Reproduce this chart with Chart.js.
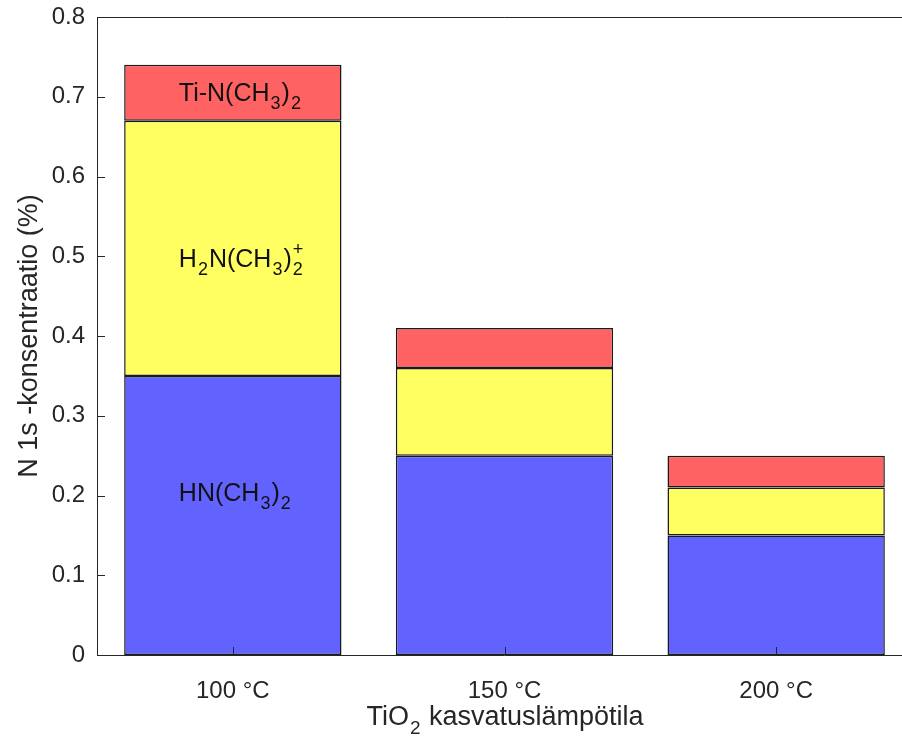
<!DOCTYPE html>
<html>
<head>
<meta charset="utf-8">
<script src="https://cdn.jsdelivr.net/npm/chart.js@4"></script>
<style>
  html, body { margin: 0; padding: 0; background: #fff; overflow: hidden; }
  #wrap { width: 912px; height: 740px; }
</style>
</head>
<body>
<div id="wrap"><canvas id="graph" width="912" height="740"></canvas></div>
<script>
// growth temperatures on the x axis
const categories = ['100 °C', '150 °C', '200 °C'];
// N 1s concentration split into components (%)
const hnValues = [0.35, 0.25, 0.15];    // HN(CH3)2
const h2nValues = [0.32, 0.11, 0.06];   // H2N(CH3)2+
const tinValues = [0.07, 0.05, 0.04];   // Ti-N(CH3)2
const yTicks = [0, 0.1, 0.2, 0.3, 0.4, 0.5, 0.6, 0.7, 0.8];

const axisColor = '#262626';
const fontFamily = 'Arial, "Liberation Sans", sans-serif';

// parts: [text, kind] where kind is 'n' normal, 's' subscript, 'ss' sub with superscript on top
function richWidth(ctx, parts, size) {
  let w = 0;
  parts.forEach(function(p) {
    if (p[1] === 'n') {
      ctx.font = size + 'px ' + fontFamily;
      w += ctx.measureText(p[0]).width;
    } else {
      ctx.font = Math.round(size * 0.7) + 'px ' + fontFamily;
      w += ctx.measureText(p[0]).width + 2;
    }
  });
  return w;
}

function drawRich(ctx, parts, x, y, size, align) {
  let cx = align === 'center' ? x - richWidth(ctx, parts, size) / 2 : x;
  ctx.textBaseline = 'middle';
  ctx.textAlign = 'left';
  parts.forEach(function(p) {
    if (p[1] === 'n') {
      ctx.font = size + 'px ' + fontFamily;
      ctx.fillText(p[0], cx, y);
      cx += ctx.measureText(p[0]).width;
    } else {
      ctx.font = Math.round(size * 0.7) + 'px ' + fontFamily;
      ctx.fillText(p[0], cx + 1, y + size * 0.4);
      if (p[1] === 'ss')
        ctx.fillText('+', cx + 1, y - size * 0.42);
      cx += ctx.measureText(p[0]).width + 2;
    }
  });
}

const segmentLabels = [
  {ds: 0, parts: [['HN(CH', 'n'], ['3', 's'], [')', 'n'], ['2', 's']], dy: -21},
  {ds: 1, parts: [['H', 'n'], ['2', 's'], ['N(CH', 'n'], ['3', 's'], [')', 'n'], ['2', 'ss']], dy: 12},
  {ds: 2, parts: [['Ti-N(CH', 'n'], ['3', 's'], [')', 'n'], ['2', 's']], dy: 1}
];

const framePlugin = {
  id: 'frame',
  afterDatasetsDraw(chart) {
    const ctx = chart.ctx;
    const area = chart.chartArea;
    const x = chart.scales.x, y = chart.scales.y;
    ctx.save();

    // component labels inside the first bar
    ctx.fillStyle = '#111';
    const stacks = [hnValues, h2nValues, tinValues];
    segmentLabels.forEach(function(l) {
      let base = 0;
      for (let i = 0; i < l.ds; i++) base += stacks[i][0];
      const mid = base + stacks[l.ds][0] / 2;
      drawRich(ctx, l.parts, x.getPixelForValue(0) - 54, y.getPixelForValue(mid) + l.dy, 25, 'left');
    });

    // box and inward ticks
    ctx.strokeStyle = axisColor;
    ctx.lineWidth = 1;
    ctx.beginPath();
    ctx.moveTo(area.left + 0.5, area.top + 0.5);
    ctx.lineTo(area.left + 0.5, area.bottom + 0.5);
    ctx.lineTo(area.right, area.bottom + 0.5);
    ctx.moveTo(area.left + 0.5, area.top + 0.5);
    ctx.lineTo(area.right, area.top + 0.5);
    yTicks.forEach(function(v) {
      const py = Math.round(y.getPixelForValue(v)) + 0.5;
      ctx.moveTo(area.left, py);
      ctx.lineTo(area.left + 8, py);
    });
    categories.forEach(function(c, i) {
      const px = Math.round(x.getPixelForValue(i)) + 0.5;
      ctx.moveTo(px, area.bottom);
      ctx.lineTo(px, area.bottom - 8);
    });
    ctx.stroke();

    // axis titles
    ctx.fillStyle = axisColor;
    drawRich(ctx, [['TiO', 'n'], ['2', 's'], [' kasvatuslämpötila', 'n']], 505, 718, 27, 'center');
    ctx.translate(30, (area.top + area.bottom) / 2);
    ctx.rotate(-Math.PI / 2);
    ctx.font = '27px ' + fontFamily;
    ctx.textAlign = 'center';
    ctx.textBaseline = 'middle';
    ctx.fillText('N 1s -konsentraatio (%)', 0, 0);
    ctx.restore();
  }
};

const barStyle = {borderColor: '#1a1a1a', borderWidth: 1.5, borderSkipped: false,
  barPercentage: 0.8, categoryPercentage: 1};

new Chart(document.getElementById('graph').getContext('2d'), {
  type: 'bar',
  data: {
    labels: categories,
    datasets: [
      Object.assign({label: 'HN(CH3)2', data: hnValues, backgroundColor: '#6262ff'}, barStyle),
      Object.assign({label: 'H2N(CH3)2+', data: h2nValues, backgroundColor: '#ffff62'}, barStyle),
      Object.assign({label: 'Ti-N(CH3)2', data: tinValues, backgroundColor: '#ff6262'}, barStyle)
    ]
  },
  options: {
    responsive: false,
    animation: false,
    devicePixelRatio: 1,
    layout: {padding: {top: 17, right: 0, left: 0, bottom: 0}},
    plugins: {legend: {display: false}, tooltip: {enabled: false}},
    scales: {
      x: {
        stacked: true,
        grid: {display: false, drawTicks: false},
        border: {display: false},
        ticks: {color: axisColor, padding: 22, font: {family: fontFamily, size: 24}},
        afterFit: function(s) { s.height = 85; s.paddingLeft = 0; s.paddingRight = 0; }
      },
      y: {
        stacked: true,
        min: 0, max: 0.8,
        grid: {display: false, drawTicks: false},
        border: {display: false},
        afterBuildTicks: function(s) { s.ticks = yTicks.map(function(v) { return {value: v}; }); },
        ticks: {
          color: axisColor, padding: 12, font: {family: fontFamily, size: 24},
          callback: function(v) { return v === 0 ? '0' : v.toFixed(1); }
        },
        afterFit: function(s) { s.width = 97; s.paddingTop = 0; s.paddingBottom = 0; }
      }
    }
  },
  plugins: [framePlugin]
});
</script>
</body>
</html>
